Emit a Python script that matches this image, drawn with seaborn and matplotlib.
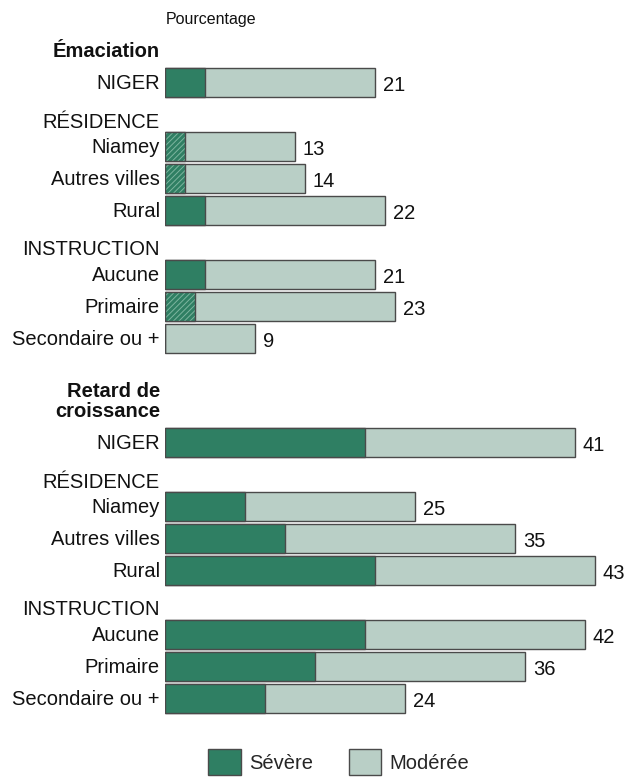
import matplotlib
matplotlib.use('Agg')
import matplotlib.pyplot as plt
from matplotlib.patches import Patch
import seaborn as sns
import pandas as pd

# --- data (percent) ---
rows = ['NIGER', 'Niamey', 'Autres villes', 'Rural', 'Aucune', 'Primaire', 'Secondaire ou +']
emac_total = [21, 13, 14, 22, 21, 23, 9]
emac_severe = [4, 2, 2, 4, 4, 3, 0]
emac_hatched = [False, True, True, False, False, True, False]
stunt_total = [41, 25, 35, 43, 42, 36, 24]
stunt_severe = [20, 8, 12, 21, 20, 15, 10]
stunt_hatched = [False] * 7
section_titles = ['Émaciation', 'Retard de\ncroissance']
headers = ['RÉSIDENCE', 'INSTRUCTION']

# --- layout (row units, 1 row = 32 px) ---
row_offsets = [0, 2, 3, 4, 6, 7, 8]
header_offsets = [1.25, 5.2]
section_starts = [2.59, 13.84]

dark_green = '#2f7f63'
light_green = '#b9cfc6'
edge = '#4a4a4a'
hatch_col = '#7db59f'

sns.set_theme(style='white')
plt.rcParams['font.family'] = ['Liberation Sans', 'DejaVu Sans']
plt.rcParams['hatch.linewidth'] = 0.7
fs = 14.5

frames = []
for start, tot, sev, hat in zip(section_starts, [emac_total, stunt_total],
                                [emac_severe, stunt_severe], [emac_hatched, stunt_hatched]):
    frames.append(pd.DataFrame({
        'label': rows,
        'pos': [start + o for o in row_offsets],
        'total': tot,
        'severe': sev,
        'hatched': hat,
    }))
df = pd.concat(frames, ignore_index=True)

fig = plt.figure(figsize=(6.39, 7.80), dpi=100)
ax = fig.add_axes([165 / 639, 0, 450 / 639, 1])

sns.barplot(data=df, x='total', y='pos', orient='y', native_scale=True, width=0.9,
            color=light_green, edgecolor=edge, linewidth=1.0, errorbar=None,
            saturation=1, ax=ax)
n_before = len(ax.patches)
sns.barplot(data=df, x='severe', y='pos', orient='y', native_scale=True, width=0.9,
            color=dark_green, edgecolor=edge, linewidth=1.0, errorbar=None,
            saturation=1, ax=ax)

# hatch the severe segments that are flagged
hatched_pos = set(df.loc[df['hatched'], 'pos'].round(3))
for p in ax.patches[n_before:]:
    yc = round(p.get_y() + p.get_height() / 2, 3)
    if yc in hatched_pos:
        p.set_hatch('//////')
        p.set_edgecolor(hatch_col)
        p.set_linewidth(0)
# outline again so the hatched bars keep a dark border
sns.barplot(data=df[df['hatched']], x='severe', y='pos', orient='y', native_scale=True,
            width=0.9, fill=False, edgecolor=edge, linewidth=1.0, errorbar=None, ax=ax)

ax.set_xlim(0, 45)
ax.set_ylim(780 / 32, 0)
ax.axis('off')

# row labels and values
for _, r in df.iterrows():
    ax.text(-0.5, r['pos'] + 0.02, r['label'], ha='right', va='center', fontsize=fs, color='#111111')
    ax.text(r['total'] + 0.8, r['pos'] + 0.08, f"{r['total']}", ha='left', va='center',
            fontsize=fs, color='#111111')

for start, title in zip(section_starts, section_titles):
    ax.text(-0.5, start - 0.81, title, ha='right', va='baseline', fontsize=fs,
            fontweight='bold', linespacing=1.05, color='#111111')
    for off, h in zip(header_offsets, headers):
        ax.text(-0.5, start + off, h, ha='right', va='center', fontsize=fs, color='#111111')

ax.text(0.1, 0.6, 'Pourcentage', ha='left', va='center', fontsize=11.5, color='#111111')

handles = [Patch(facecolor=dark_green, edgecolor=edge), Patch(facecolor=light_green, edgecolor=edge)]
fig.legend(handles, ['Sévère', 'Modérée'], ncol=2, loc='upper center',
           bbox_to_anchor=(0.530, 1 - 749 / 780), frameon=False, fontsize=fs,
           handlelength=1.6, handleheight=1.6, handletextpad=0.4, columnspacing=1.8,
           borderpad=0, borderaxespad=0)

fig.savefig('out.png', dpi=100, facecolor='white')
